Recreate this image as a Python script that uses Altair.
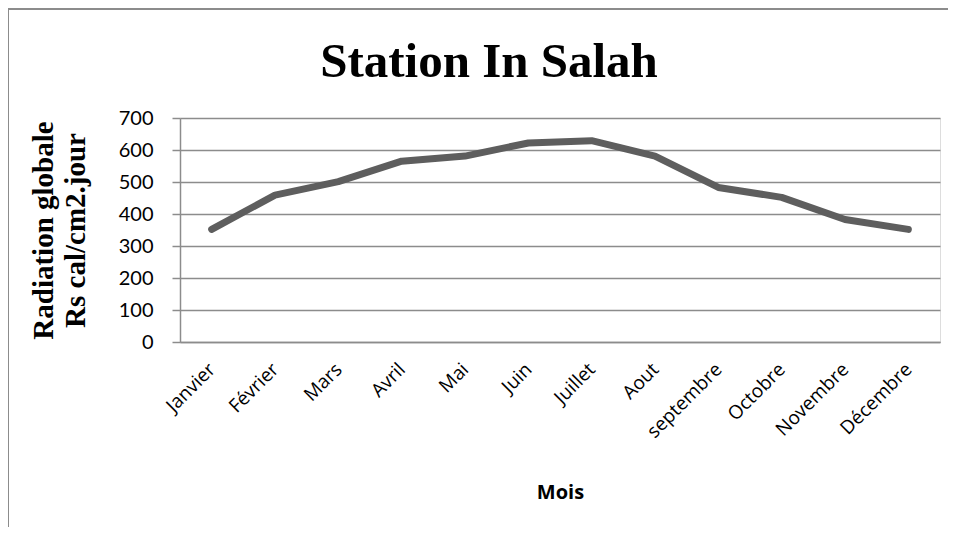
import altair as alt
import pandas as pd

months = ["Janvier", "Février", "Mars", "Avril", "Mai", "Juin", "Juillet",
          "Aout", "septembre", "Octobre", "Novembre", "Décembre"]
radiation = [352, 459, 501, 565, 581, 622, 629, 581, 483, 452, 383, 352]
chart_title = "Station In Salah"

df = pd.DataFrame({"Mois": months, "Rs": radiation})

W, H = 760, 224

line = alt.Chart(df).mark_line(
    color="#5e5e5e", strokeWidth=7, strokeCap="round", strokeJoin="round"
).encode(
    x=alt.X("Mois:N", sort=months,
            scale=alt.Scale(paddingInner=0, paddingOuter=0),
            axis=alt.Axis(
                title="Mois", labelAngle=315, labelAlign="right", labelBaseline="middle",
                labelPadding=24, ticks=False, domainColor="#8c8c8c", domainWidth=1.5,
                labelFont="Open Sans", labelFontSize=19, labelColor="#000000",
                titleFont="Open Sans", titleFontSize=20, titleFontWeight="bold",
                titleColor="#000000", titleX=W / 2, titleY=150, titleBaseline="middle",
                titleAlign="center", grid=False)),
    y=alt.Y("Rs:Q",
            scale=alt.Scale(domain=[0, 700], nice=False),
            axis=alt.Axis(
                title=["Radiation globale", "Rs cal/cm2.jour"],
                values=[0, 100, 200, 300, 400, 500, 600, 700],
                tickSize=8, tickColor="#8c8c8c", tickWidth=1.5,
                domainColor="#8c8c8c", domainWidth=1.5,
                gridColor="#8c8c8c", gridWidth=1.5,
                labelPadding=19, labelFont="Lato", labelFontSize=20, labelColor="#000000",
                titleFont="Liberation Serif", titleFontSize=29, titleFontWeight="bold",
                titleColor="#000000", titleX=-137, titleY=H / 2, titleAngle=270,
                titleBaseline="middle", titleAlign="center", titleLineHeight=32)),
)

title_text = alt.Chart(pd.DataFrame({"t": [chart_title]})).mark_text(
    font="Liberation Serif", fontSize=49, fontWeight="bold", color="#000000",
    align="center", baseline="middle"
).encode(x=alt.value(309), y=alt.value(-56), text="t:N")

frame_left = alt.Chart(df).mark_rule(color="#8c8c8c", strokeWidth=1.5).encode(
    x=alt.value(-172), y=alt.value(-110), y2=alt.value(420))
frame_top = alt.Chart(df).mark_rule(color="#8c8c8c", strokeWidth=1.5).encode(
    x=alt.value(-172), x2=alt.value(790), y=alt.value(-109))

chart = alt.layer(frame_left, frame_top, line, title_text).properties(
    width=W, height=H,
    autosize=alt.AutoSizeParams(type="none"),
    padding={"left": 172, "top": 110, "right": 8, "bottom": 185},
).configure_view(stroke=None, fill="#e6e6e6").configure(background="#ffffff")

chart.save("out.html", embed_options={"renderer": "svg", "actions": False})
